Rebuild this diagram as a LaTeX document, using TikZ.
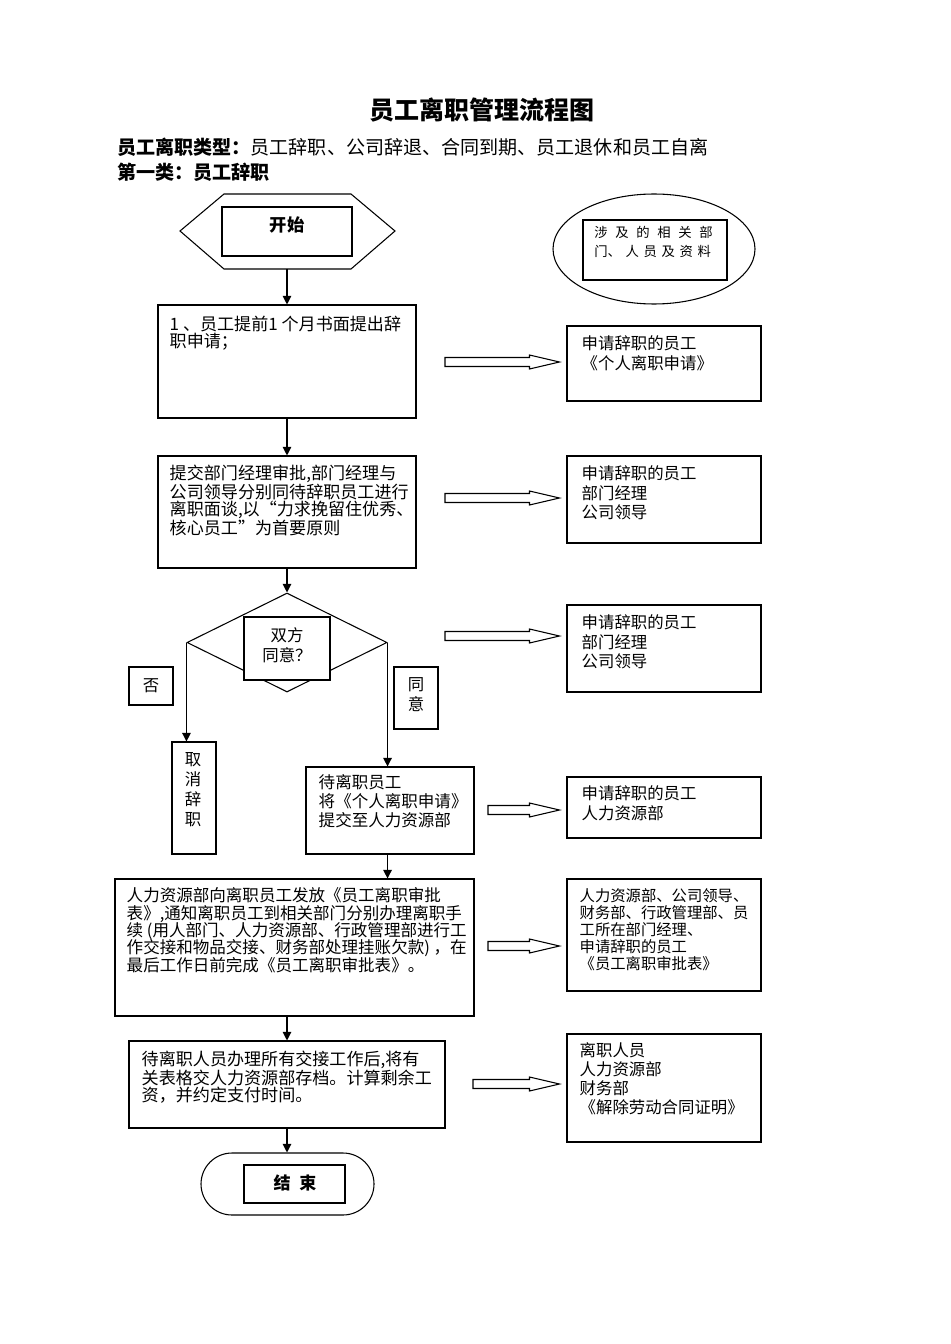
\documentclass[tikz,border=0pt]{standalone}
\usepackage{fontspec}
\setmainfont{Noto Sans CJK SC}
\usetikzlibrary{arrows.meta,calc,fit,shapes.geometric,shapes.misc}
\newlength\px
\setlength\px{0.75pt}
\newcommand\cgap{\hspace{0.575em}}
\newcommand\cgapb{\hspace{0.35em}}
\tikzset{
  box/.style={draw, line width=0.8pt, inner sep=0pt},
  note/.style={anchor=north west, align=left, inner sep=0pt, font=\fontsize{12.8}{13}\selectfont},
  rnote/.style={anchor=north west, align=left, inner sep=0pt, font=\fontsize{12.3}{14.6}\selectfont},
  tag/.style={align=center, inner sep=0pt, font=\fontsize{12.3}{15}\selectfont},
  flow/.style={line width=0.8pt, -{Triangle[length=6.5pt,width=6.5pt]}},
  hollow/.style={draw, line width=0.8pt, fill=white}
}
\begin{document}
\begin{tikzpicture}[x=0.75pt, y=-0.75pt]
\useasboundingbox (0,0) rectangle (950,1344);

% headings
\node[font=\bfseries\fontsize{18.75}{20}\selectfont] (title) at (482,110) {员工离职管理流程图};
\node[anchor=west, inner sep=0pt, font=\fontsize{14.3}{16}\selectfont] (types) at (117,147) {\textbf{员工离职类型：}员工辞职、公司辞退、合同到期、员工退休和员工自离};
\node[anchor=west, inner sep=0pt, font=\bfseries\fontsize{14.3}{16}\selectfont] (kind) at (117,172) {第一类：员工辞职};

% start
\draw[line width=0.8pt] (180,231) -- (224,194) -- (351,194) -- (395,231) -- (351,269) -- (224,269) -- cycle;
\node[box, fit={(222,207) (352,256)}] (start) {};
\node[font=\bfseries\fontsize{13}{14}\selectfont] (startt) at (287,225) {开始};
\coordinate (hexb) at (287,269);

% legend
\node[draw, ellipse, line width=0.8pt, inner sep=0pt, minimum width=202\px, minimum height=110\px] (inv) at (654,249) {};
\node[box, fit={(583,220) (727,280)}] (invbox) {};
\node[anchor=north west, align=left, inner sep=0pt, font=\fontsize{10}{14.2}\selectfont] (invt) at (594,226)
  {涉\cgap 及\cgap 的\cgap 相\cgap 关\cgap 部\\门、\cgapb 人\cgapb 员\cgapb 及\cgapb 资\cgapb 料};

% main steps
\node[box, fit={(158,305) (416,418)}] (s1) {};
\node[note] (s1t) at ([shift={(12,11)}]s1.north west) {1 、员工提前1 个月书面提出辞\\职申请；};

\node[box, fit={(158,456) (416,568)}] (s2) {};
\node[note] (s2t) at ([shift={(12,9)}]s2.north west) {提交部门经理审批,部门经理与\\公司领导分别同待辞职员工进行\\离职面谈,以“力求挽留住优秀、\\核心员工”为首要原则};

\node[draw, diamond, line width=0.8pt, inner sep=0pt, minimum width=200\px, minimum height=99\px] (dec) at (287,642.5) {};
\node[box, fill=white, fit={(244,617) (330,680)}] (decbox) {};
\node[tag] (dect) at (287,645) {双方\\同意？};

\node[box, fit={(129,667) (173,705)}] (no) {};
\node[tag] (not) at (no) {否};
\node[box, fit={(394,667) (438,729)}] (yes) {};
\node[tag] (yest) at (416,695) {同\\意};

\node[box, fit={(172,742) (216,854)}] (cancel) {};
\node[tag] (cancelt) at (193,790) {取\\消\\辞\\职};

\node[box, fit={(306,767) (474,854)}] (s3) {};
\node[note, font=\fontsize{12.4}{14.3}\selectfont] (s3t) at ([shift={(13,8)}]s3.north west) {待离职员工\\将《个人离职申请》\\提交至人力资源部};

\node[box, fit={(115,879) (474,1016)}] (s4) {};
\node[note, font=\fontsize{12.4}{13}\selectfont] (s4t) at ([shift={(12,9)}]s4.north west) {人力资源部向离职员工发放《员工离职审批\\表》,通知离职员工到相关部门分别办理离职手\\续 (用人部门、人力资源部、行政管理部进行工\\作交接和物品交接、财务部处理挂账欠款) ，在\\最后工作日前完成《员工离职审批表》。};

\node[box, fit={(129,1041) (445,1128)}] (s5) {};
\node[note] (s5t) at ([shift={(13,10)}]s5.north west) {待离职人员办理所有交接工作后,将有\\关表格交人力资源部存档。计算剩余工\\资，并约定支付时间。};

\node[draw, rounded rectangle, line width=0.8pt, inner sep=0pt, minimum width=173\px, minimum height=62\px] (fin) at (287.5,1184) {};
\node[box, fit={(244,1165) (345,1203)}] (finbox) {};
\node[font=\bfseries\fontsize{12.8}{14}\selectfont] (fint) at (295,1183) {结\hspace{0.5em}束};

% people and papers
\node[box, fit={(567,326) (761,401)}] (r1) {};
\node[rnote] (r1t) at ([shift={(15,10)}]r1.north west) {申请辞职的员工\\《个人离职申请》};
\node[box, fit={(567,456) (761,543)}] (r2) {};
\node[rnote] (r2t) at ([shift={(15,10)}]r2.north west) {申请辞职的员工\\部门经理\\公司领导};
\node[box, fit={(567,605) (761,692)}] (r3) {};
\node[rnote] (r3t) at ([shift={(15,10)}]r3.north west) {申请辞职的员工\\部门经理\\公司领导};
\node[box, fit={(567,777) (761,838)}] (r4) {};
\node[rnote] (r4t) at ([shift={(15,9)}]r4.north west) {申请辞职的员工\\人力资源部};
\node[box, fit={(567,879) (761,991)}] (r5) {};
\node[rnote, font=\fontsize{11.5}{12.8}\selectfont] (r5t) at ([shift={(13,10)}]r5.north west) {人力资源部、公司领导、\\财务部、行政管理部、员\\工所在部门经理、\\申请辞职的员工\\《员工离职审批表》};
\node[box, fit={(567,1034) (761,1142)}] (r6) {};
\node[rnote, font=\fontsize{12.3}{14.3}\selectfont] (r6t) at ([shift={(13,9)}]r6.north west) {离职人员\\人力资源部\\财务部\\《解除劳动合同证明》};

% flow
\draw[flow] (hexb) -- (s1.north);
\draw[flow] (s1.south) -- (s2.north);
\draw[flow] (s2.south) -- (dec.north);
\draw[flow] (dec.west) -- (dec.west |- cancel.north);
\draw[flow] (dec.east) -- (dec.east |- s3.north);
\draw[flow] (dec.east |- s3.south) -- (dec.east |- s4.north);
\draw[flow] (s1.south |- s4.south) -- (s1.south |- s5.north);
\draw[flow] (s1.south |- s5.south) -- (s1.south |- fin.north);

% hollow arrows
\foreach \r/\sx/\ay in {r1/445/362, r2/445/498, r3/445/636, r4/488/810, r5/488/946, r6/473/1084}
{
  \coordinate (ha) at (\sx,\ay);
  \coordinate (hb) at ($(\r.west |- ha)+(-7,0)$);
  \draw[hollow] ($(ha)+(0,-4.5)$) -- ($(hb)+(-30,-4.5)$) -- ($(hb)+(-30,-7)$) -- (hb) -- ($(hb)+(-30,7)$) -- ($(hb)+(-30,4.5)$) -- ($(ha)+(0,4.5)$) -- cycle;
}
\end{tikzpicture}
\end{document}
